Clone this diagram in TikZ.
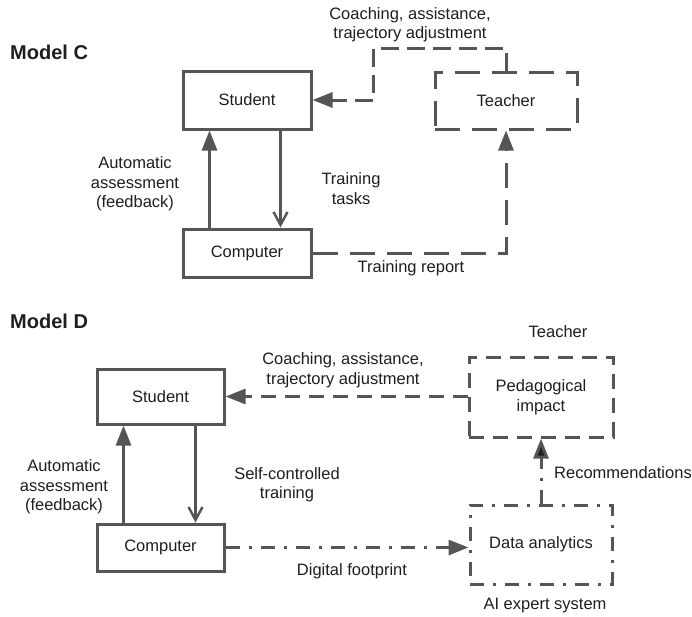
\documentclass[tikz,border=0pt]{standalone}
\usepackage{fontspec}
\setmainfont{Liberation Sans}
\usetikzlibrary{arrows.meta}
\definecolor{ln}{HTML}{555555}
\definecolor{tx}{HTML}{1E1E1E}
\begin{document}
\begin{tikzpicture}[x=1pt,y=-1pt,
  font=\fontsize{16.5}{19.5}\selectfont, text=tx,
  box/.style={draw=ln, line width=3pt, minimum width=#1, inner sep=0pt, align=center},
  lbl/.style={align=center, inner sep=0pt},
  ttl/.style={font=\fontsize{20}{24}\selectfont\bfseries, anchor=west, inner sep=0pt},
  conn/.style={draw=ln, line width=3pt},
  tri/.style={-{Triangle[length=20pt,width=15pt]}},
  barb/.style={-{Straight Barb[length=13pt,width=14pt,line width=2.4pt]}},
  dashC/.style={dash pattern=on 25pt off 12pt},
  dashCs/.style={dash pattern=on 18pt off 8pt},
  dashD/.style={dash pattern=on 15pt off 9pt},
  dotD/.style={dash pattern=on 14pt off 9pt on 3pt off 9pt}
]
\useasboundingbox (0,0) rectangle (692,616);

% ---------------- Model C ----------------
\node[ttl] (titleC) at (10,52) {Model C};
\node[box=128pt, minimum height=58pt] (studentC) at (247,100) {Student};
\node[box=142pt, minimum height=57pt, dashC] (teacherC) at (506,100.5) {Teacher};
\node[box=128pt, minimum height=48pt] (computerC) at (247,253) {Computer};
\coordinate (cC1) at (373,48);

\draw[conn, dashCs, tri] (teacherC.north) |- (cC1) |- (studentC.east);
\draw[conn, dashC, tri] (computerC.east) -| (teacherC.south);
\draw[conn, tri] ([xshift=28pt]computerC.north west) -- ([xshift=28pt]studentC.south west);
\draw[conn, barb] ([xshift=99pt]studentC.south west) -- ([xshift=99pt]computerC.north west);

\node[lbl] (coachC) at (410,24.5) {Coaching, assistance,\\trajectory adjustment};
\node[lbl] (autoC) at (135,184) {Automatic\\assessment\\(feedback)};
\node[lbl] (tasksC) at (351,188.5) {Training\\tasks};
\node[lbl] (reportC) at (411,268) {Training report};

% ---------------- Model D ----------------
\node[ttl] (titleD) at (10,321) {Model D};
\node[box=127pt, minimum height=55pt] (studentD) at (160.5,396.5) {Student};
\node[box=127pt, minimum height=47pt] (computerD) at (160.5,547.5) {Computer};
\node[box=144pt, minimum height=80pt, dashD] (piD) at (541,397) {Pedagogical\\impact};
\node[box=142pt, minimum height=79pt, dotD] (daD) at (541,544.5) {Data analytics};

\draw[conn, dashD, tri] (piD.west |- studentD.east) -- (studentD.east);
\draw[conn, dotD, tri] (computerD.east) -- (daD.west |- computerD.east);
\draw[conn, tri] ([xshift=28pt]computerD.north west) -- ([xshift=28pt]studentD.south west);
\draw[conn, barb] ([xshift=100pt]studentD.south west) -- ([xshift=100pt]computerD.north west);
\draw[conn, dotD, -{Triangle[length=20pt,width=15pt,fill=tx]}, draw=ln] (daD.north) -- (piD.south);

\node[lbl] (teacherD) at (558,332) {Teacher};
\node[lbl] (coachD) at (343,370) {Coaching, assistance,\\trajectory adjustment};
\node[lbl] (autoD) at (64,487) {Automatic\\assessment\\(feedback)};
\node[lbl] (selfD) at (287,484.5) {Self-controlled\\training};
\node[lbl] (footD) at (352,571) {Digital footprint};
\node[lbl, anchor=west] (recD) at (554,473) {Recommendations};
\node[lbl] (aiD) at (545,606) {AI expert system};
\end{tikzpicture}
\end{document}
